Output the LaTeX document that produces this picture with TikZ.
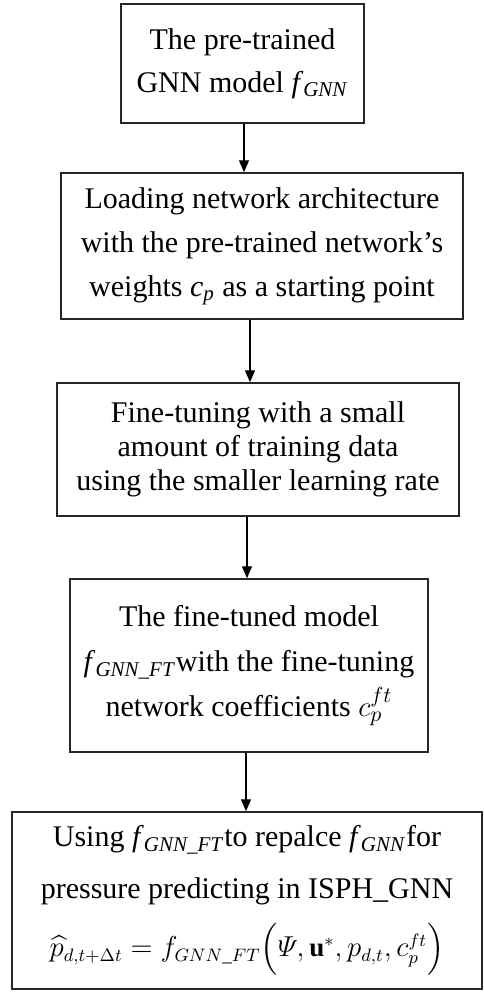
\documentclass[tikz,border=0pt]{standalone}
\usepackage{amsmath}
\usepackage{fontspec}
\setmainfont{Liberation Serif}
\usetikzlibrary{arrows.meta,calc}

\newcommand{\fsub}[1]{\textit{f}\textsubscript{\textit{#1}}}

\begin{document}
\begin{tikzpicture}[x=0.5pt,y=-0.5pt,
  box/.style={draw=black!85,line width=0.75pt,align=center,inner sep=0pt},
  arr/.style={-{Triangle[length=6pt,width=5pt]},line width=0.6pt}]
\useasboundingbox (0,0) rectangle (483,992);

  % centres of the boxes
\coordinate (c1) at (242.5,63.5);
\coordinate (c2) at (262,246);
\coordinate (c3) at (258,449.5);
\coordinate (c4) at (249,665.5);
\coordinate (c5) at (247,900.5);

  % boxes
\node[box,minimum width=121.5pt,minimum height=59.5pt,
  font=\fontsize{15}{21.5}\selectfont] (pretrained) at (c1)
  {The pre-trained\\GNN model \fsub{GNN}};
\node[box,minimum width=201pt,minimum height=73pt,
  font=\fontsize{15}{22}\selectfont] (loading) at (c2)
  {Loading network architecture\\with the pre-trained network's\\weights \textit{c}\textsubscript{\textit{p}} as a starting point};
\node[box,minimum width=201pt,minimum height=66.5pt,
  font=\fontsize{15}{17}\selectfont] (finetune) at (c3)
  {Fine-tuning with a small\\amount of training data\\using the smaller learning rate};
\node[box,minimum width=179pt,minimum height=86.5pt,
  font=\fontsize{15}{22.5}\selectfont] (finetuned) at (c4)
  {The fine-tuned model\\\fsub{GNN\_FT}with the fine-tuning\\network coefficients $c_p^{ft}$};
\node[box,minimum width=235pt,minimum height=88.5pt,
  font=\fontsize{15}{26}\selectfont] (replace) at (c5)
  {Using \fsub{GNN\_FT}to repalce \fsub{GNN}for\\pressure predicting in ISPH\_GNN\\[3pt]
   \fontsize{13.5}{16}\selectfont
   $\widehat{p}_{d,t+\Delta t}=f_{GNN\_FT}\Big(\varPsi,\mathbf{u}^{*},p_{d,t},c_p^{ft}\Big)$};

  % arrows
\draw[arr] ([xshift=0.75pt]pretrained.south) -- ([xshift=-9pt]loading.north);
\draw[arr] ([xshift=-6pt]loading.south) -- ([xshift=-4pt]finetune.north);
\draw[arr] ([xshift=-5.5pt]finetune.south) -- ([xshift=-1pt]finetuned.north);
\draw[arr] ([xshift=-1.5pt]finetuned.south) -- ([xshift=-0.5pt]replace.north);
\end{tikzpicture}
\end{document}
